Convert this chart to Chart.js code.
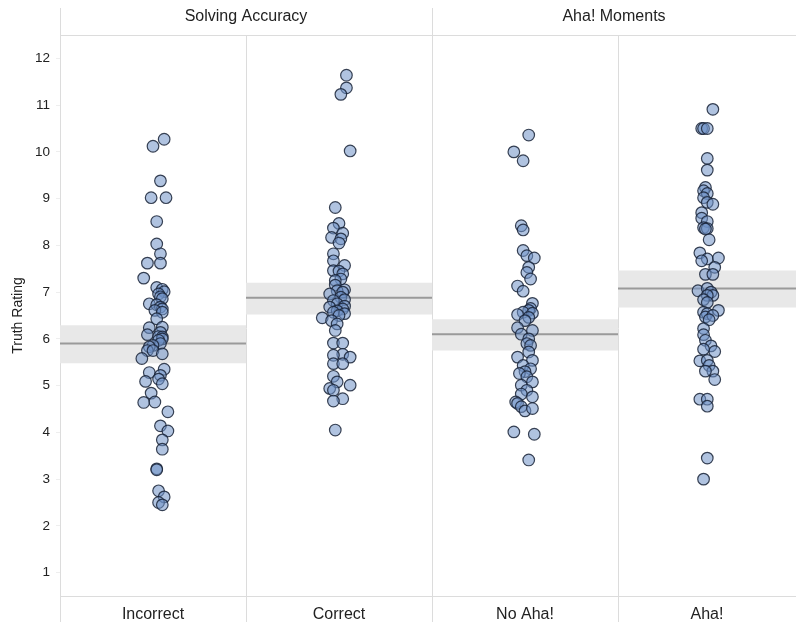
<!DOCTYPE html>
<html>
<head>
<meta charset="utf-8">
<script src="https://cdn.jsdelivr.net/npm/chart.js@4.4.1/dist/chart.umd.min.js"></script>
<style>
  html, body { margin: 0; padding: 0; background: #ffffff; }
  #wrap { position: relative; width: 796px; height: 627px; }
</style>
</head>
<body>
<div id="wrap"><canvas id="c" width="796" height="627"></canvas></div>
<script>
const categories = ['Incorrect', 'Correct', 'No Aha!', 'Aha!'];
const facets = ['Solving Accuracy', 'Aha! Moments'];
const yTicks = [1, 2, 3, 4, 5, 6, 7, 8, 9, 10, 11, 12];
const yAxisTitle = 'Truth Rating';

const means = [5.90, 6.88, 6.10, 7.08];
const ciLow = [5.48, 6.52, 5.75, 6.67];
const ciHigh = [6.29, 7.20, 6.42, 7.46];

const incorrectRatings = [10.27, 10.12, 9.38, 9.02, 9.02, 8.51, 8.03, 7.82, 7.62, 7.62, 7.30, 7.10, 7.06, 7.01, 6.96, 6.90, 6.86, 6.75, 6.73, 6.68, 6.64, 6.61, 6.57, 6.43, 6.24, 6.25, 6.14, 6.09, 6.05, 6.04, 6.00, 5.97, 5.90, 5.86, 5.83, 5.75, 5.75, 5.68, 5.58, 5.35, 5.28, 5.22, 5.14, 5.09, 5.04, 4.84, 4.64, 4.65, 4.44, 4.14, 4.03, 3.84, 3.64, 3.22, 3.20, 2.75, 2.62, 2.50, 2.45];
const incorrectJitter = [0.06, 0.00, 0.04, -0.01, 0.07, 0.02, 0.02, 0.04, -0.03, 0.04, -0.05, 0.02, 0.05, 0.06, 0.03, 0.04, 0.05, -0.02, 0.02, 0.04, 0.05, 0.01, 0.05, 0.02, -0.02, 0.05, 0.04, -0.03, 0.03, 0.05, 0.05, 0.03, 0.04, 0.00, -0.02, -0.03, 0.00, 0.05, -0.06, 0.06, -0.02, 0.04, 0.03, -0.04, 0.05, -0.01, -0.05, 0.01, 0.08, 0.04, 0.08, 0.05, 0.05, 0.02, 0.02, 0.03, 0.06, 0.03, 0.05];

const correctRatings = [11.64, 11.37, 11.23, 10.02, 8.81, 8.47, 8.37, 8.26, 8.17, 8.14, 8.05, 7.82, 7.67, 7.57, 7.46, 7.45, 7.39, 7.28, 7.25, 7.15, 7.05, 7.03, 7.00, 6.96, 6.89, 6.84, 6.82, 6.75, 6.70, 6.68, 6.64, 6.60, 6.57, 6.54, 6.50, 6.45, 6.39, 6.32, 6.18, 5.91, 5.91, 5.67, 5.65, 5.61, 5.47, 5.47, 5.20, 5.08, 5.01, 4.94, 4.90, 4.72, 4.67, 4.05];
const correctJitter = [0.04, 0.04, 0.01, 0.06, -0.02, 0.00, -0.03, 0.02, -0.04, 0.01, 0.00, -0.03, -0.03, 0.03, -0.03, 0.00, 0.02, 0.01, -0.02, -0.02, 0.03, -0.01, 0.02, -0.05, 0.01, 0.03, -0.03, -0.01, 0.03, -0.05, 0.02, -0.01, -0.03, 0.03, 0.00, -0.09, -0.04, -0.01, -0.02, -0.03, 0.02, 0.02, -0.03, 0.06, -0.03, 0.02, -0.03, -0.01, 0.06, -0.05, -0.03, 0.02, -0.03, -0.02];

const noAhaRatings = [10.36, 10.00, 9.81, 8.42, 8.33, 7.89, 7.78, 7.73, 7.53, 7.42, 7.28, 7.13, 7.02, 6.76, 6.65, 6.61, 6.57, 6.52, 6.55, 6.46, 6.39, 6.24, 6.18, 6.10, 6.00, 5.90, 5.86, 5.72, 5.61, 5.54, 5.43, 5.36, 5.30, 5.26, 5.19, 5.08, 5.01, 4.90, 4.82, 4.76, 4.65, 4.62, 4.55, 4.46, 4.51, 4.01, 3.96, 3.41];
const noAhaJitter = [0.02, -0.06, -0.01, -0.02, -0.01, -0.01, 0.01, 0.05, 0.02, 0.01, 0.03, -0.04, -0.01, 0.04, 0.03, 0.02, -0.01, -0.04, 0.04, 0.02, 0.00, -0.04, 0.04, -0.02, 0.02, 0.01, 0.03, 0.02, -0.04, 0.04, -0.01, 0.03, 0.00, -0.03, 0.01, 0.04, -0.02, 0.01, -0.02, 0.04, -0.05, -0.04, -0.02, 0.00, 0.04, -0.06, 0.05, 0.02];

const ahaRatings = [10.91, 10.50, 10.50, 10.50, 9.86, 9.61, 9.24, 9.17, 9.11, 9.02, 8.92, 8.88, 8.70, 8.58, 8.51, 8.38, 8.36, 8.35, 8.12, 7.84, 7.71, 7.73, 7.67, 7.53, 7.38, 7.38, 7.03, 7.08, 7.00, 6.93, 6.93, 6.84, 6.78, 6.61, 6.57, 6.54, 6.47, 6.50, 6.41, 6.22, 6.09, 5.97, 5.85, 5.73, 5.78, 5.53, 5.54, 5.43, 5.31, 5.31, 5.13, 4.71, 4.71, 4.56, 3.45, 3.00];
const ahaJitter = [0.01, -0.05, -0.04, -0.02, -0.02, -0.02, -0.03, -0.04, -0.02, -0.04, -0.02, 0.01, -0.05, -0.05, -0.02, -0.04, -0.02, -0.03, -0.01, -0.06, -0.02, 0.04, -0.05, 0.02, -0.03, 0.01, -0.07, -0.02, 0.00, 0.01, -0.02, -0.04, -0.02, 0.04, -0.04, -0.02, -0.03, 0.01, -0.01, -0.04, -0.04, -0.03, 0.00, 0.02, -0.04, -0.06, -0.02, -0.01, 0.01, -0.03, 0.02, -0.06, -0.02, -0.02, -0.02, -0.04];

const pointSets = [
  [incorrectRatings, incorrectJitter],
  [correctRatings, correctJitter],
  [noAhaRatings, noAhaJitter],
  [ahaRatings, ahaJitter]
];

const X_MAX = 3.957;
const FONT = '"Liberation Sans", Arial, Helvetica, sans-serif';

const datasets = [];
pointSets.forEach(([ys, js], i) => {
  datasets.push({
    type: 'scatter',
    label: categories[i],
    data: ys.map((y, k) => ({ x: i + 0.5 + js[k], y: y })),
    pointRadius: 5.8,
    pointHoverRadius: 5.8,
    pointBackgroundColor: 'rgba(112,146,198,0.55)',
    pointBorderColor: 'rgba(25,35,55,0.85)',
    pointBorderWidth: 1.2,
    showLine: false,
    order: 0
  });
});
categories.forEach((c, i) => {
  datasets.push({
    type: 'line',
    label: c + ' mean',
    data: [{ x: i, y: means[i] }, { x: i + 1, y: means[i] }],
    borderColor: '#9a9a9a',
    borderWidth: 2,
    pointRadius: 0,
    fill: false,
    order: 1
  });
  datasets.push({
    type: 'line',
    label: c + ' CI',
    data: [{ x: i, y: ciHigh[i] }, { x: i + 1, y: ciHigh[i] }],
    borderColor: 'rgba(0,0,0,0)',
    borderWidth: 0,
    pointRadius: 0,
    backgroundColor: '#e8e8e8',
    fill: { value: ciLow[i] },
    order: 2
  });
});

const framePlugin = {
  id: 'frame',
  beforeDatasetsDraw(chart) {
    const { ctx, chartArea, scales } = chart;
    const x = scales.x;
    ctx.save();
    ctx.strokeStyle = '#dcdcdc';
    ctx.lineWidth = 1;
    [0, 1, 2, 3].forEach(v => {
      const px = Math.round(x.getPixelForValue(v)) + 0.5;
      const top = (v % 2 === 0) ? 8 : chartArea.top;
      ctx.beginPath();
      ctx.moveTo(px, top);
      ctx.lineTo(px, 622);
      ctx.stroke();
    });
    ctx.beginPath();
    ctx.moveTo(chartArea.left, Math.round(chartArea.top) + 0.5);
    ctx.lineTo(chartArea.right, Math.round(chartArea.top) + 0.5);
    ctx.moveTo(chartArea.left, Math.round(chartArea.bottom) + 0.5);
    ctx.lineTo(chartArea.right, Math.round(chartArea.bottom) + 0.5);
    ctx.stroke();
    ctx.restore();
  },
  afterDraw(chart) {
    const { ctx, scales } = chart;
    const x = scales.x;
    ctx.save();
    ctx.fillStyle = '#222';
    ctx.font = '16px ' + FONT;
    ctx.textAlign = 'center';
    ctx.textBaseline = 'middle';
    facets.forEach((f, k) => {
      const a = x.getPixelForValue(k * 2);
      const b = x.getPixelForValue(Math.min(k * 2 + 2, x.max));
      ctx.fillText(f, (a + b) / 2, 17);
    });
    ctx.restore();
  }
};

new Chart(document.getElementById('c'), {
  data: { datasets },
  options: {
    responsive: false,
    animation: false,
    layout: { autoPadding: false, padding: { top: 35, left: 0, right: 0, bottom: 0 } },
    plugins: { legend: { display: false }, tooltip: { enabled: false } },
    scales: {
      x: {
        type: 'linear',
        min: 0,
        max: X_MAX,
        afterBuildTicks(scale) {
          scale.ticks = categories.map((c, i) => ({ value: Math.min(i + 0.5, (i + scale.max) / 2) }));
        },
        afterFit(scale) {
          scale.height = 31;
          scale.paddingLeft = 0;
          scale.paddingRight = 0;
        },
        grid: { display: false },
        border: { display: false },
        ticks: {
          autoSkip: false,
          maxRotation: 0,
          padding: 1,
          color: '#222',
          font: { family: FONT, size: 16 },
          callback(value, index) { return categories[index]; }
        }
      },
      y: {
        type: 'linear',
        min: 0.5,
        max: 12.5,
        afterBuildTicks(scale) { scale.ticks = yTicks.map(v => ({ value: v })); },
        afterFit(scale) { scale.width = 60; },
        grid: { display: true, drawOnChartArea: false, drawTicks: true, tickLength: 4, tickColor: '#eeeeee' },
        border: { display: false },
        ticks: { padding: 6, color: '#222', font: { family: FONT, size: 13.5 } },
        title: { display: true, text: yAxisTitle, color: '#222', font: { family: FONT, size: 14 }, padding: { top: 10, bottom: 0 } }
      }
    }
  },
  plugins: [framePlugin]
});
</script>
</body>
</html>
